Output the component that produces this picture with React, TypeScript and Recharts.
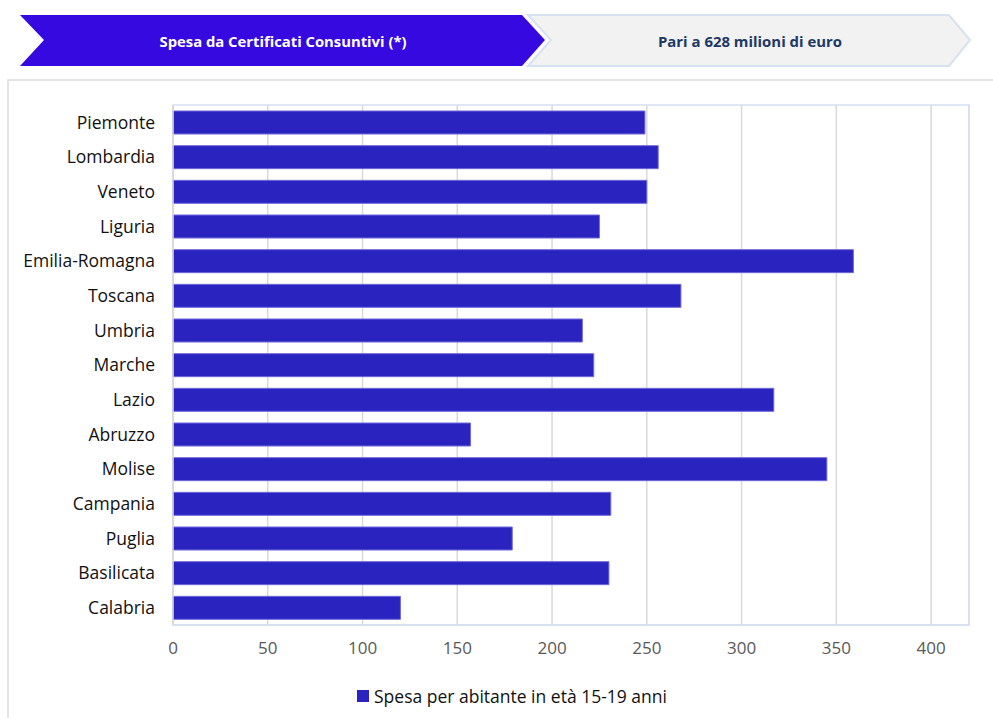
import React from "react";
import {
  BarChart,
  Bar,
  XAxis,
  YAxis,
  CartesianGrid,
  ReferenceArea,
} from "recharts";

const regions = [
  "Piemonte",
  "Lombardia",
  "Veneto",
  "Liguria",
  "Emilia-Romagna",
  "Toscana",
  "Umbria",
  "Marche",
  "Lazio",
  "Abruzzo",
  "Molise",
  "Campania",
  "Puglia",
  "Basilicata",
  "Calabria",
];
const spesa = [249, 256, 250, 225, 359, 268, 216, 222, 317, 157, 345, 231, 179, 230, 120];
const xTicks = [0, 50, 100, 150, 200, 250, 300, 350, 400];
const seriesName = "Spesa per abitante in età 15-19 anni";
const headerLeft = "Spesa da Certificati Consuntivi (*)";
const headerRight = "Pari a 628 milioni di euro";

const data = regions.map((r, i) => ({ region: r, value: spesa[i] }));

const BAR = "#2b23c0";
const FONT = "'Open Sans', Lato, sans-serif";

export default function App() {
  return (
    <div
      style={{
        position: "absolute",
        left: 0,
        top: 0,
        width: 993,
        height: 718,
        overflow: "hidden",
        background: "#fff",
        fontFamily: FONT,
      }}
    >
      <svg width={993} height={80} style={{ position: "absolute", left: 0, top: 0 }}>
        <polygon
          points="528,15 949,15 970,40 949,66 528,66 551,40"
          fill="#f2f2f2"
          stroke="#d6e2f2"
          strokeWidth={2}
        />
        <polygon points="20,15 522,15 545,40 522,66 20,66 44,40" fill="#3509e0" />
        <text
          x={283}
          y={41}
          textAnchor="middle"
          dominantBaseline="central"
          fill="#ffffff"
          fontWeight="bold"
          fontSize={15}
          fontFamily="'Liberation Sans Narrow', 'Open Sans', sans-serif"
          textLength={247}
          lengthAdjust="spacingAndGlyphs"
        >
          {headerLeft}
        </text>
        <text
          x={750}
          y={41}
          textAnchor="middle"
          dominantBaseline="central"
          fill="#203864"
          fontWeight="bold"
          fontSize={15}
          fontFamily="'Liberation Sans Narrow', 'Open Sans', sans-serif"
          textLength={184}
          lengthAdjust="spacingAndGlyphs"
        >
          {headerRight}
        </text>
      </svg>

      <div
        style={{
          position: "absolute",
          left: 7,
          top: 79,
          width: 1100,
          height: 800,
          borderLeft: "2px solid #e3e3e3",
          borderTop: "2px solid #e3e3e3",
        }}
      />

      <div style={{ position: "absolute", left: 0, top: 0 }}>
        <BarChart
          width={993}
          height={718}
          data={data}
          layout="vertical"
          margin={{ top: 105, right: 24, bottom: 63, left: 0 }}
        >
          <CartesianGrid
            horizontal={false}
            vertical={true}
            stroke="#d9d9d9"
            strokeWidth={1.5}
          />
          <ReferenceArea
            x1={0}
            x2={420}
            fill="none"
            stroke="#d4dff0"
            strokeWidth={1.5}
            ifOverflow="visible"
          />
          <XAxis
            type="number"
            domain={[0, 420]}
            ticks={xTicks}
            height={30}
            axisLine={{ stroke: "#d4dff0", strokeWidth: 1.5 }}
            tickLine={false}
            tickSize={6}
            tickMargin={11}
            tick={{ fill: "#595959", fontSize: 17, fontFamily: FONT }}
            interval={0}
          />
          <YAxis
            type="category"
            dataKey="region"
            width={173}
            axisLine={{ stroke: "#d9d9d9", strokeWidth: 1.5 }}
            tickLine={false}
            tickSize={6}
            tickMargin={12}
            tick={{ fill: "#111", fontSize: 17.5, fontFamily: FONT }}
            interval={0}
          />
          <Bar
            dataKey="value"
            name={seriesName}
            fill={BAR}
            stroke="#7069da"
            strokeWidth={1}
            barSize={23}
            isAnimationActive={false}
          />
        </BarChart>
      </div>

      <div
        style={{
          position: "absolute",
          left: 357,
          top: 684,
          display: "flex",
          alignItems: "center",
          fontFamily: FONT,
          fontSize: 17.5,
          color: "#111",
          whiteSpace: "nowrap",
        }}
      >
        <span
          style={{
            display: "inline-block",
            width: 12,
            height: 12,
            background: BAR,
            marginRight: 5,
          }}
        />
        <span>{seriesName}</span>
      </div>
    </div>
  );
}
